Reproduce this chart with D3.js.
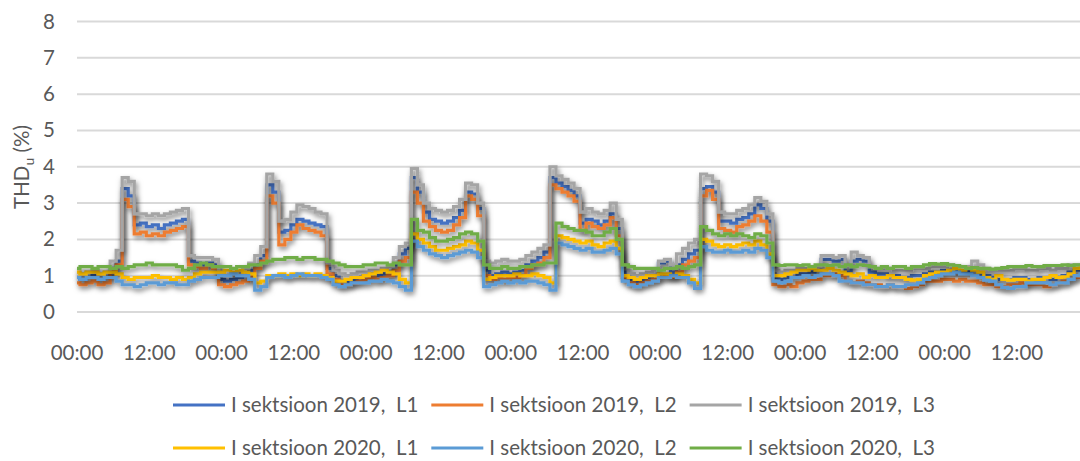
<!DOCTYPE html>
<html>
<head>
<meta charset="utf-8">
<script src="https://cdn.jsdelivr.net/npm/d3@7"></script>
<style>
  html, body { margin: 0; padding: 0; background: #ffffff; }
  svg { display: block; font-family: Lato, "Open Sans", sans-serif; }
</style>
</head>
<body>
<svg id="chart" width="1080" height="461"></svg>
<script>
// Hourly THD_u readings (%) over one week, starting Monday 00:00
const tickHours  = [0, 12, 24, 36, 48, 60, 72, 84, 96, 108, 120, 132, 144, 156];
const tickLabels = ["00:00", "12:00", "00:00", "12:00", "00:00", "12:00", "00:00",
                    "12:00", "00:00", "12:00", "00:00", "12:00", "00:00", "12:00"];
const yTicks = [0, 1, 2, 3, 4, 5, 6, 7, 8];

const seriesNames = [
  "I sektsioon 2019,  L1", "I sektsioon 2019,  L2", "I sektsioon 2019,  L3",
  "I sektsioon 2020,  L1", "I sektsioon 2020,  L2", "I sektsioon 2020,  L3"
];

const s2019L1 = [
  0.95,0.9,0.95,1.0,0.9,0.95,1.2,1.4,3.4,3.2,2.4,2.45,2.35,2.4,2.3,2.4,2.45,2.5,2.55,1.4,1.35,1.3,1.35,1.3,
  0.9,0.85,0.9,0.95,1.0,1.15,1.3,1.55,3.5,3.3,2.2,2.25,2.4,2.55,2.5,2.45,2.4,2.35,1.2,1.0,0.85,0.85,0.9,0.95,
  1.0,1.05,1.0,1.05,1.1,1.3,1.6,1.75,3.7,3.3,2.75,2.55,2.5,2.45,2.5,2.6,2.8,3.3,3.25,2.85,1.15,1.0,1.05,1.1,
  1.05,1.1,1.15,1.3,1.4,1.5,1.65,3.7,3.55,3.45,3.35,3.2,2.45,2.55,2.5,2.4,2.5,2.7,2.3,1.1,0.9,0.85,0.9,0.95,
  1.0,1.35,1.4,1.1,1.3,1.45,1.6,1.7,3.4,3.45,3.3,2.5,2.5,2.45,2.55,2.6,2.7,2.95,2.85,2.5,0.95,0.9,0.95,0.95,
  1.05,1.05,1.1,1.15,1.45,1.45,1.4,1.45,1.1,1.4,1.45,1.4,1.1,1.05,1.05,1.0,1.0,0.95,0.95,1.0,1.0,1.05,1.1,1.1,
  1.15,1.15,1.1,1.1,1.1,1.15,1.05,1.0,0.95,0.9,0.9,0.9,0.95,0.95,0.9,0.9,0.95,0.95,0.9,0.95,1.0,1.1,1.15,1.15
];
const s2019L2 = [
  0.8,0.75,0.8,0.85,0.75,0.8,1.1,1.3,3.1,2.9,2.15,2.2,2.1,2.15,2.1,2.2,2.25,2.3,2.35,1.3,1.25,1.2,1.3,1.2,
  0.75,0.7,0.75,0.8,0.85,1.0,1.2,1.4,3.2,3.0,1.85,2.0,2.2,2.4,2.3,2.25,2.2,2.1,1.05,0.9,0.75,0.75,0.8,0.85,
  0.9,0.95,0.9,0.95,1.0,1.15,1.4,1.5,3.3,3.0,2.5,2.35,2.25,2.2,2.25,2.4,2.6,3.2,3.1,2.65,1.0,0.9,0.95,0.9,
  0.95,0.95,1.0,1.2,1.3,1.35,1.5,3.5,3.4,3.3,3.2,3.05,2.25,2.45,2.35,2.3,2.4,2.6,2.1,0.95,0.8,0.75,0.8,0.85,
  0.9,0.95,1.0,0.95,1.1,1.3,1.4,1.5,3.2,3.35,3.1,2.3,2.25,2.2,2.35,2.4,2.5,2.65,2.5,2.2,0.75,0.7,0.75,0.7,
  0.8,0.85,0.9,0.9,1.0,1.0,1.05,1.0,0.85,0.8,0.85,0.8,0.75,0.75,0.7,0.75,0.7,0.7,0.65,0.7,0.75,0.85,0.85,0.85,
  0.9,0.9,0.85,0.9,0.85,0.85,0.8,0.75,0.75,0.7,0.7,0.75,0.75,0.8,0.75,0.75,0.75,0.7,0.75,0.8,0.85,0.9,0.95,0.95
];
const s2019L3 = [
  1.1,1.05,1.1,1.15,1.05,1.1,1.4,1.7,3.7,3.6,2.7,2.7,2.65,2.7,2.65,2.7,2.75,2.8,2.85,1.55,1.5,1.5,1.5,1.45,
  1.05,1.0,1.05,1.1,1.2,1.35,1.55,1.8,3.8,3.6,2.5,2.55,2.75,2.95,2.9,2.85,2.75,2.7,1.35,1.15,1.05,1.0,1.05,1.1,
  1.1,1.15,1.15,1.2,1.25,1.5,1.8,1.9,3.95,3.5,3.0,2.85,2.8,2.75,2.8,2.9,3.1,3.55,3.5,3.0,1.4,1.35,1.4,1.45,
  1.4,1.4,1.45,1.55,1.65,1.75,1.85,4.0,3.75,3.65,3.55,3.4,2.75,2.85,2.75,2.7,2.8,3.0,2.55,1.3,1.05,1.0,1.05,1.1,
  1.15,1.4,1.45,1.3,1.6,1.75,1.9,2.0,3.8,3.75,3.6,2.75,2.7,2.7,2.8,2.85,2.95,3.15,3.05,2.7,1.15,1.1,1.15,1.15,
  1.2,1.2,1.2,1.25,1.55,1.55,1.5,1.55,1.25,1.65,1.55,1.5,1.25,1.2,1.2,1.2,1.15,1.15,1.15,1.2,1.2,1.2,1.25,1.25,
  1.25,1.3,1.25,1.25,1.25,1.4,1.3,1.2,1.15,1.15,1.15,1.15,1.2,1.2,1.15,1.15,1.2,1.2,1.15,1.2,1.2,1.3,1.3,1.3
];
const s2020L1 = [
  1.1,1.05,1.1,1.1,1.05,1.1,1.1,1.05,0.95,0.9,0.95,0.95,0.95,1.0,0.95,0.95,0.9,0.95,0.9,0.95,1.05,1.1,1.1,1.1,
  1.1,1.15,1.1,1.15,1.1,1.05,0.8,0.85,1.0,1.0,1.05,1.0,1.05,1.0,1.05,1.0,1.05,1.0,0.95,0.85,0.85,0.9,0.95,0.95,
  1.0,1.05,1.1,1.15,1.1,1.05,0.9,0.8,2.15,2.0,1.9,1.8,1.7,1.7,1.75,1.8,1.85,1.95,1.9,1.7,0.9,0.95,1.0,1.0,
  1.0,1.05,1.0,1.0,1.05,1.0,0.95,0.8,2.1,2.05,2.0,1.95,1.9,1.95,1.85,1.8,1.9,1.95,1.75,1.0,0.95,0.9,0.95,1.0,
  1.0,1.05,1.05,1.0,1.05,1.0,0.9,0.8,2.0,1.95,1.85,1.8,1.85,1.8,1.85,1.9,1.85,1.95,1.85,1.6,1.0,1.0,1.05,1.1,
  1.15,1.15,1.2,1.15,1.15,1.2,1.15,1.1,1.05,1.0,1.05,0.95,1.0,0.95,0.95,1.0,0.95,0.95,0.9,0.88,0.9,1.0,1.05,1.1,
  1.1,1.15,1.2,1.15,1.2,1.15,1.1,0.95,0.9,1.0,0.9,0.88,0.9,0.9,0.85,0.9,0.9,0.95,1.0,0.95,0.97,1.05,1.2,1.25
];
const s2020L2 = [
  0.95,0.9,0.95,0.95,0.9,0.95,0.95,0.85,0.75,0.75,0.7,0.75,0.8,0.8,0.75,0.8,0.8,0.75,0.75,0.85,0.9,0.95,0.95,0.95,
  1.0,1.0,1.05,1.0,1.0,0.9,0.6,0.7,0.95,1.0,1.0,0.95,1.0,1.05,1.0,1.0,1.0,0.95,0.9,0.75,0.7,0.75,0.8,0.8,
  0.8,0.85,0.85,0.9,0.85,0.8,0.7,0.6,1.95,1.8,1.7,1.6,1.55,1.5,1.55,1.6,1.65,1.7,1.65,1.5,0.7,0.75,0.8,0.85,
  0.8,0.85,0.8,0.85,0.85,0.8,0.75,0.6,1.9,1.85,1.8,1.75,1.7,1.75,1.65,1.65,1.7,1.75,1.6,0.85,0.75,0.7,0.75,0.8,
  0.85,0.95,0.95,1.0,0.95,0.95,0.8,0.65,1.8,1.7,1.65,1.65,1.7,1.65,1.65,1.7,1.65,1.75,1.7,1.5,0.85,0.8,0.85,0.95,
  0.95,1.0,0.95,1.0,1.05,1.05,1.0,0.85,0.85,0.8,0.8,0.75,0.75,0.7,0.7,0.75,0.7,0.7,0.75,0.75,0.8,0.9,0.95,1.0,
  1.05,1.05,1.1,1.05,1.05,1.0,0.95,0.88,0.85,0.75,0.68,0.65,0.7,0.7,0.8,0.8,0.8,0.8,0.75,0.8,0.8,0.9,1.0,1.05
];
const s2020L3 = [
  1.2,1.25,1.25,1.2,1.25,1.25,1.2,1.25,1.2,1.25,1.3,1.3,1.35,1.3,1.3,1.3,1.3,1.25,1.15,1.2,1.3,1.35,1.3,1.25,
  1.25,1.25,1.2,1.25,1.25,1.3,1.3,1.35,1.4,1.45,1.45,1.5,1.5,1.45,1.5,1.5,1.45,1.45,1.4,1.35,1.3,1.25,1.25,1.25,
  1.3,1.3,1.35,1.35,1.3,1.35,1.3,1.3,2.55,2.25,2.2,2.05,1.95,1.95,2.0,2.05,2.15,2.2,2.15,1.95,1.3,1.2,1.2,1.25,
  1.2,1.2,1.25,1.25,1.3,1.3,1.35,1.35,2.45,2.35,2.3,2.25,2.25,2.2,2.1,2.1,2.2,2.3,2.0,1.3,1.25,1.2,1.2,1.2,
  1.2,1.15,1.2,1.2,1.25,1.2,1.25,1.3,2.35,2.25,2.15,2.1,2.15,2.1,2.15,2.1,2.05,2.15,2.1,1.9,1.3,1.28,1.3,1.3,
  1.28,1.3,1.25,1.3,1.3,1.28,1.3,1.25,1.3,1.25,1.3,1.28,1.25,1.2,1.25,1.2,1.25,1.25,1.2,1.25,1.25,1.3,1.33,1.32,
  1.33,1.3,1.28,1.25,1.2,1.22,1.2,1.2,1.18,1.2,1.22,1.25,1.25,1.25,1.28,1.25,1.25,1.28,1.28,1.28,1.3,1.28,1.3,1.3
];

const seriesValues = [s2019L1, s2019L2, s2019L3, s2020L1, s2020L2, s2020L3];
const seriesColors = ["#4472C4", "#ED7D31", "#A5A5A5", "#FFC000", "#5B9BD5", "#70AD47"];

const svg = d3.select("#chart");
const textColor = "#595959";

const plotLeft = 77;
const hourPx = 6.025;
const x = d3.scaleLinear().domain([0, 168]).range([plotLeft, plotLeft + 168 * hourPx]);
const y = d3.scaleLinear().domain([0, 8]).range([312, 21.5]);

// soft drop shadow under each line
const defs = svg.append("defs");
const f = defs.append("filter").attr("id", "shadow")
  .attr("x", "-5%").attr("y", "-20%").attr("width", "110%").attr("height", "140%");
f.append("feDropShadow").attr("dx", 1.5).attr("dy", 3).attr("stdDeviation", 2.6)
  .attr("flood-color", "#000").attr("flood-opacity", 0.5);

// horizontal gridlines
svg.append("g").selectAll("line").data(yTicks).join("line")
  .attr("x1", plotLeft).attr("x2", 1080)
  .attr("y1", d => y(d)).attr("y2", d => y(d))
  .attr("stroke", "#d9d9d9").attr("stroke-width", 2);

// y tick labels
svg.append("g").selectAll("text").data(yTicks).join("text")
  .attr("x", 55).attr("y", d => y(d) + 7)
  .attr("text-anchor", "end").attr("font-size", 20.5).attr("fill", textColor)
  .text(d => d);

// y-axis title with subscript
const yt = svg.append("text")
  .attr("transform", "translate(29,167) rotate(-90)")
  .attr("text-anchor", "middle").attr("font-size", 20.5).attr("fill", textColor);
yt.append("tspan").text("THD");
yt.append("tspan").attr("font-size", 14).attr("dy", 5).text("u");
yt.append("tspan").attr("dy", -5).text(" (%)");

// x tick labels
svg.append("g").selectAll("text").data(tickHours).join("text")
  .attr("x", d => x(d)).attr("y", 360)
  .attr("text-anchor", "middle").attr("font-size", 20.5).attr("fill", textColor)
  .text((d, i) => tickLabels[i]);

// series lines (stepped between hourly readings)
const line = d3.line().x((d, i) => x(i)).y(d => y(d)).curve(d3.curveStep);
svg.append("g").selectAll("path").data(seriesValues).join("path")
  .attr("d", d => line(d))
  .attr("fill", "none")
  .attr("stroke", (d, i) => seriesColors[i])
  .attr("stroke-width", 3.2)
  .attr("stroke-linejoin", "miter")
  .attr("filter", "url(#shadow)");

// legend: two rows of three entries
const legend = svg.append("g");
const rowY = [405, 448];
seriesNames.forEach((name, i) => {
  const row = Math.floor(i / 3), col = i % 3;
  const g = legend.append("g").attr("class", "item").attr("data-row", row).attr("data-col", col);
  g.append("line").attr("x1", 0).attr("x2", 52).attr("y1", 0).attr("y2", 0)
    .attr("stroke", seriesColors[i]).attr("stroke-width", 3);
  g.append("text").attr("x", 58).attr("y", 7)
    .attr("font-size", 20.5).attr("fill", textColor)
    .style("white-space", "pre").text(name);
});
// position entries so that columns line up
const items = legend.selectAll("g.item").nodes();
for (let row = 0; row < 2; row++) {
  let cx = 173;
  for (let col = 0; col < 3; col++) {
    const node = items[row * 3 + col];
    d3.select(node).attr("transform", `translate(${cx},${rowY[row]})`);
    cx += 58 + d3.select(node).select("text").node().getComputedTextLength() + 13;
  }
}
</script>
</body>
</html>
